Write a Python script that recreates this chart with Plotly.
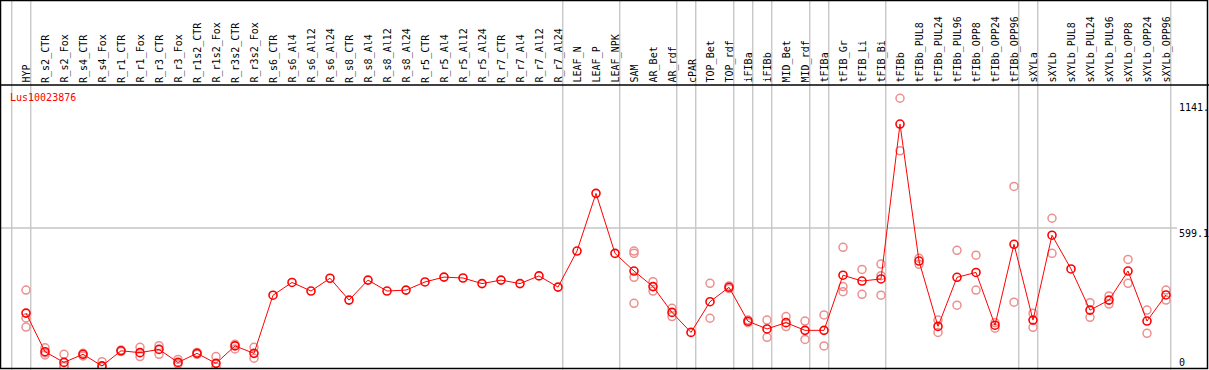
import plotly.graph_objects as go

categories = ["HYP", "R_s2_CTR", "R_s2_Fox", "R_s4_CTR", "R_s4_Fox", "R_r1_CTR", "R_r1_Fox",
              "R_r3_CTR", "R_r3_Fox", "R_r1s2_CTR", "R_r1s2_Fox", "R_r3s2_CTR", "R_r3s2_Fox",
              "R_s6_CTR", "R_s6_Al4", "R_s6_Al12", "R_s6_Al24", "R_s8_CTR", "R_s8_Al4",
              "R_s8_Al12", "R_s8_Al24", "R_r5_CTR", "R_r5_Al4", "R_r5_Al12", "R_r5_Al24",
              "R_r7_CTR", "R_r7_Al4", "R_r7_Al12", "R_r7_Al24", "LEAF_N", "LEAF_P", "LEAF_NPK",
              "SAM", "AR_Bet", "AR_rdf", "cPAR", "TOP_Bet", "TOP_rdf", "iFIBa", "iFIBb",
              "MID_Bet", "MID_rdf", "tFIBa", "tFIB_Gr", "tFIB_Li", "tFIB_Bi", "tFIBb",
              "tFIBb_PUL8", "tFIBb_PUL24", "tFIBb_PUL96", "tFIBb_OPP8", "tFIBb_OPP24",
              "tFIBb_OPP96", "sXYLa", "sXYLb", "sXYLb_PUL8", "sXYLb_PUL24", "sXYLb_PUL96",
              "sXYLb_OPP8", "sXYLb_OPP24", "sXYLb_OPP96"]

mean_values = [233, 67, 21, 56, 6, 71, 63, 77, 21, 60, 17, 92, 60,
               310, 365, 328, 383, 289, 375, 328, 332, 367, 388, 384, 360,
               375, 360, 393, 345, 500, 748, 490,
               414, 347, 236, 150, 282, 344, 198, 165, 192, 159, 159,
               396, 371, 380, 1046, 457, 176, 387, 408, 181, 529,
               203, 568, 423, 246, 289, 414, 199, 311]

replicates = [[332, 212, 173], [84, 53, 62], [56, 3, 6], [60, 49], [24, 2], [74, 68], [86, 46],
              [93, 56], [34, 14], [64, 56], [46, 1], [99, 79], [86, 39],
              [], [], [], [], [], [], [], [], [], [], [], [], [], [], [], [], [], [], [],
              [500, 490, 387, 275], [368, 328], [254, 218], [], [361, 211], [350, 338],
              [203, 192], [203, 129], [218, 175], [199, 120], [225, 92],
              [516, 347, 325], [421, 314], [444, 394, 310], [1157, 931], [469, 443],
              [203, 150], [503, 267], [482, 332], [192, 168], [778, 280],
              [232, 172], [641, 490], [], [278, 215], [307, 272], [464, 361], [246, 146],
              [332, 289]]

group_ends = [-1, 0, 28, 31, 34, 35, 37, 38, 39, 41, 42, 45, 52, 53, 60]
y_ticks = [1141, 599.1, 0]
y_tick_text = ["1141.", "599.1", "0"]
gene_name = "Lus10023876"

W, H = 1209, 370
FONT = "DejaVu Sans Mono"

rep_x, rep_y = [], []
for i, reps in enumerate(replicates):
    for r in reps:
        rep_x.append(i)
        rep_y.append(r)

fig = go.Figure()
fig.add_trace(go.Scatter(x=rep_x, y=rep_y, mode="markers",
                         marker=dict(symbol="circle-open", size=8, color="#ec8f8f",
                                     line=dict(width=1.5, color="#ec8f8f")),
                         hoverinfo="skip", showlegend=False))
fig.add_trace(go.Scatter(x=list(range(len(categories))), y=mean_values, mode="lines+markers",
                         line=dict(color="#ff0000", width=1),
                         marker=dict(symbol="circle-open", size=8, color="#ff0000",
                                     line=dict(width=1.6, color="#ff0000")),
                         showlegend=False))

def px_x(p):
    return p / W

def px_y(p):
    return 1 - p / H

shapes = []
# vertical group separators
for g in group_ends:
    shapes.append(dict(type="line", xref="x", yref="paper", x0=g + 0.25, x1=g + 0.25,
                       y0=0, y1=1, line=dict(color="#c4c4c4", width=1.3), layer="below"))
# horizontal grid line at middle tick
shapes.append(dict(type="line", xref="paper", yref="y", x0=0, x1=px_x(1177),
                   y0=y_ticks[1], y1=y_ticks[1], line=dict(color="#c4c4c4", width=1.3),
                   layer="below"))
# header separator
shapes.append(dict(type="line", xref="paper", yref="paper", x0=0, x1=1,
                   y0=px_y(85), y1=px_y(85), line=dict(color="black", width=1.5)))
# outer frame
shapes.append(dict(type="rect", xref="paper", yref="paper", x0=px_x(0.5), x1=px_x(1207.5),
                   y0=px_y(368.5), y1=px_y(0.5), line=dict(color="black", width=1.5)))

annotations = []
for i, c in enumerate(categories):
    annotations.append(dict(x=i + 0.05, y=px_y(83.5), xref="x", yref="paper", text=c,
                            textangle=-90, showarrow=False, xanchor="center", yanchor="bottom",
                            font=dict(family=FONT, size=10, color="black"), borderpad=0))
annotations.append(dict(x=px_x(9), y=px_y(98), xref="paper", yref="paper", text=gene_name,
                        showarrow=False, xanchor="left", yanchor="middle",
                        font=dict(family=FONT, size=10, color="#ff0000"), borderpad=0))
tick_tops = [101, 227, 356]
for t, lab, top in zip(y_ticks, y_tick_text, tick_tops):
    annotations.append(dict(x=px_x(1178), y=px_y(top), xref="paper", yref="paper", text=lab,
                            showarrow=False, xanchor="left", yanchor="top",
                            font=dict(family=FONT, size=10, color="black"), borderpad=0))

fig.update_layout(
    width=W, height=H,
    margin=dict(l=0, r=0, t=0, b=0),
    paper_bgcolor="white", plot_bgcolor="white",
    xaxis=dict(range=[-26 / 19, (W - 26) / 19], showgrid=False, zeroline=False,
               showticklabels=False, showline=False, fixedrange=True),
    yaxis=dict(range=[-3, 1214], domain=[px_y(368), px_y(85)], showgrid=False,
               zeroline=False, showticklabels=False, showline=False, fixedrange=True),
    shapes=shapes, annotations=annotations,
)

fig.write_html("out.html", config={"displayModeBar": False},
               post_script="document.body.style.margin='0px';document.body.style.overflow='hidden';")
